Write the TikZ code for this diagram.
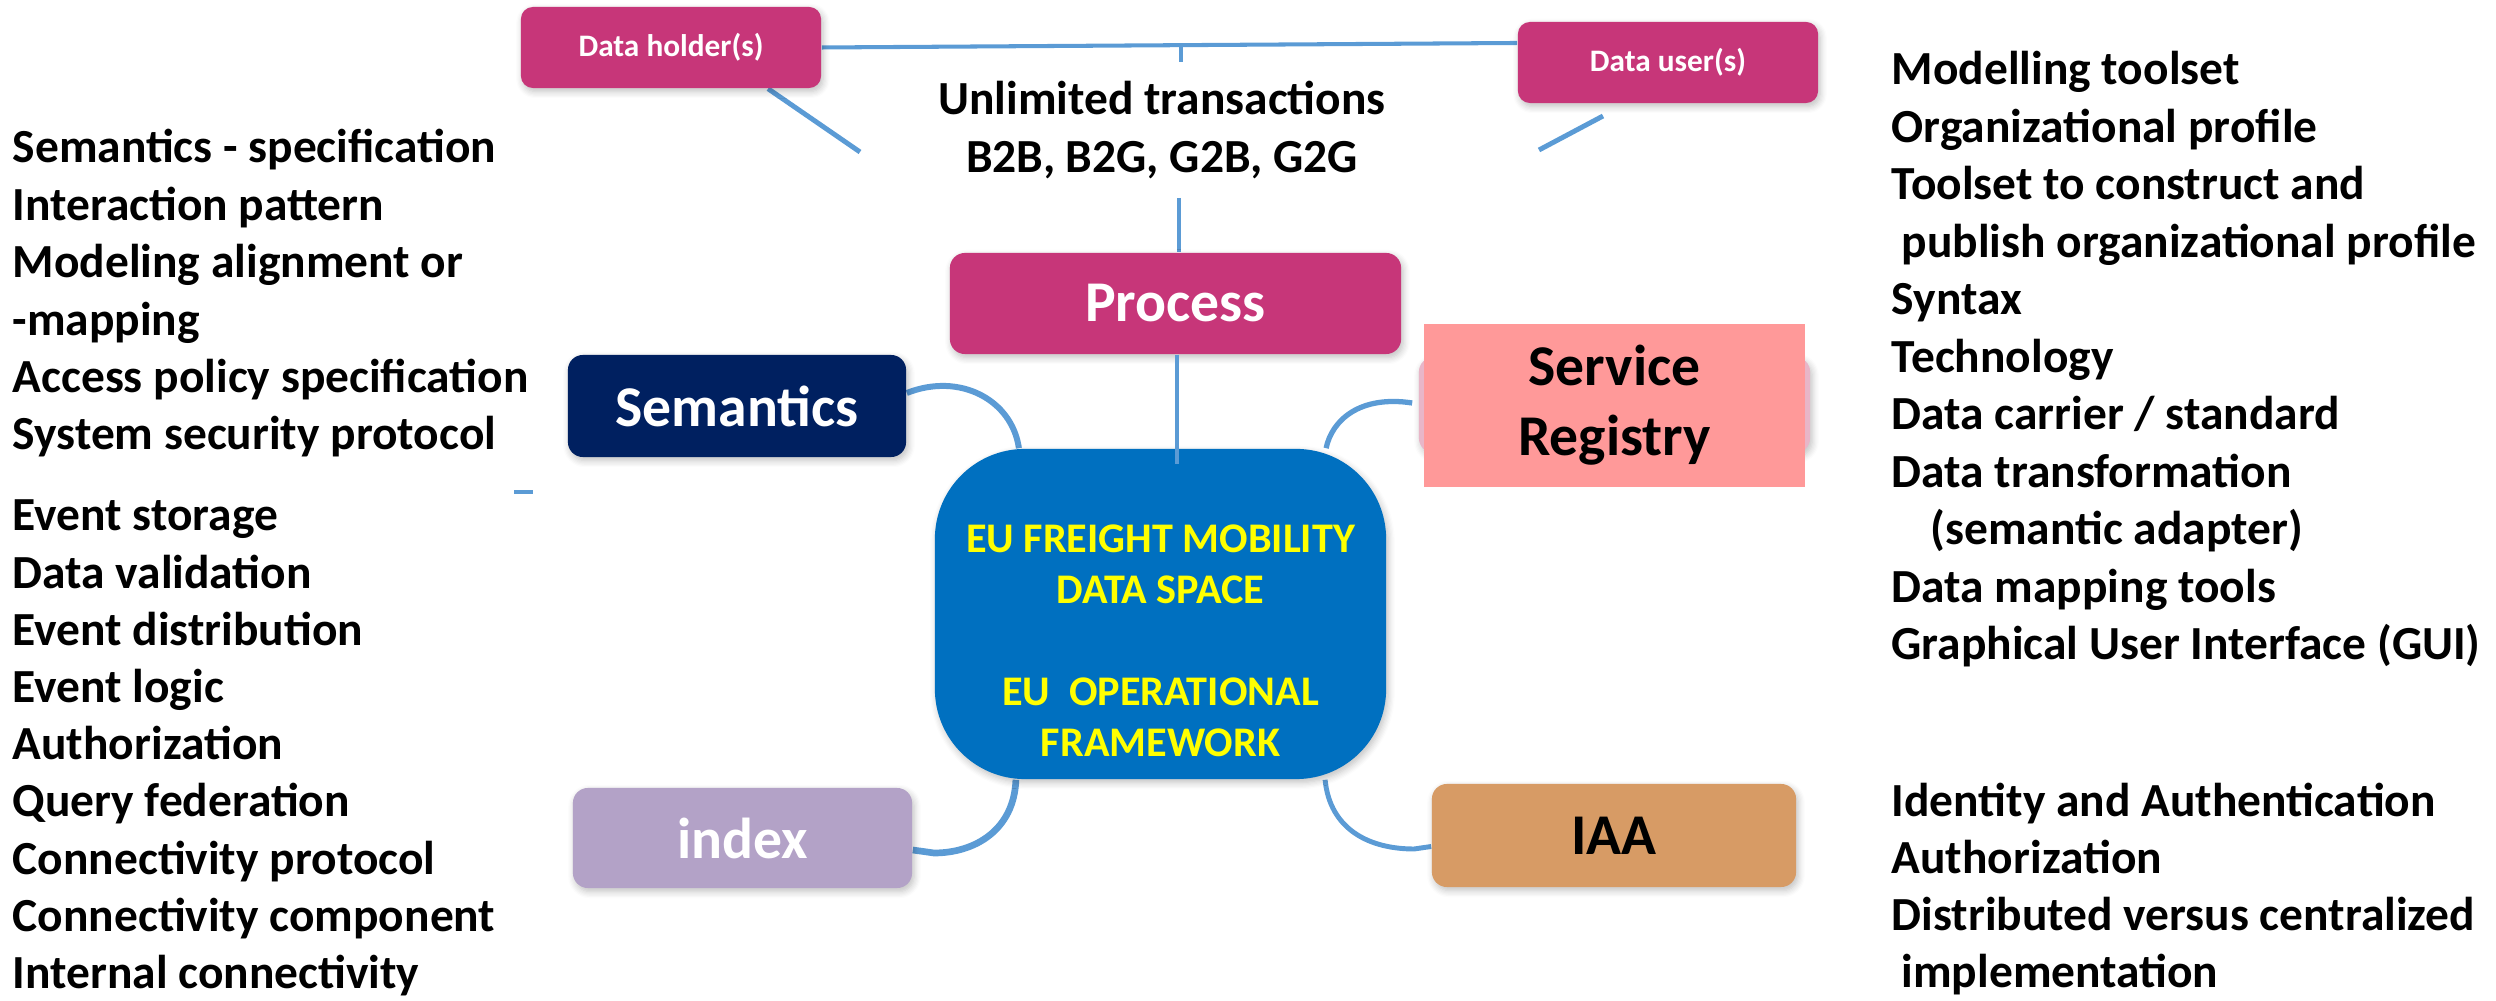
\documentclass[tikz,border=0pt]{standalone}
\usepackage{fontspec}
\setmainfont{Carlito}
\usetikzlibrary{shadows.blur,backgrounds}
\definecolor{magbox}{HTML}{C73679}
\definecolor{navybox}{HTML}{002060}
\definecolor{srpink}{HTML}{FF9999}
\definecolor{srfade}{HTML}{E8B6C8}
\definecolor{ctrblue}{HTML}{0070C0}
\definecolor{idxlilac}{HTML}{B3A2C7}
\definecolor{iaaorange}{HTML}{D79B65}
\definecolor{linec}{HTML}{5B9BD5}
\definecolor{ctryellow}{HTML}{FFFF00}
\begin{document}
\begin{tikzpicture}[x=0.01cm,y=-0.01cm,
  conn/.style={draw=linec, line width=1.4pt},
  box/.style={rounded corners=0.15cm, inner sep=0pt, align=center,
    font=\bfseries\fontsize{16.4}{19.9}\selectfont,
    blur shadow={shadow xshift=0.02cm, shadow yshift=-0.035cm, shadow opacity=25, shadow blur steps=6}},
  smallbox/.style={box, rounded corners=0.12cm, minimum width=3cm, minimum height=0.81cm,
    fill=magbox, text=white, font=\bfseries\fontsize{8.9}{10.8}\selectfont},
  side/.style={anchor=base west, inner sep=0pt, font=\bfseries\fontsize{13.5}{16.3}\selectfont},
  midtext/.style={anchor=base, inner sep=0pt, font=\bfseries\fontsize{13.5}{16.3}\selectfont},
]
\useasboundingbox (0,0) rectangle (2496,1001);

% boxes
\node[smallbox] (dh) at (671,47.5) {Data holder(s)};
\node[smallbox] (du) at (1668,62.5) {Data user(s)};
\node[box, fill=magbox, text=white, minimum width=4.51cm, minimum height=1.01cm] (proc) at (1175.5,303.5) {Process};
\node[box, fill=navybox, text=white, minimum width=3.38cm, minimum height=1.02cm] (sem) at (737,406) {Semantics};
\node[box, fill=srfade, minimum width=3.91cm, minimum height=0.96cm] (srbg) at (1614.5,405) {};
\node[fill=srpink, inner sep=0pt, align=center, minimum width=3.81cm, minimum height=1.63cm,
  font=\bfseries\fontsize{16.4}{19.9}\selectfont] (sr) at (1614.5,405.5) {Service\\Registry};
\node[box, fill=ctrblue, rounded corners=0.9cm, minimum width=4.51cm, minimum height=3.30cm] (ctr) at (1160.5,614) {};
\node[inner sep=0pt, align=center, text=ctryellow, font=\bfseries\fontsize{12}{14.5}\selectfont] (ctrtxt) at (1160.5,641)
  {EU FREIGHT MOBILITY\\DATA SPACE\\[14.5pt]EU~~OPERATIONAL\\FRAMEWORK};
\node[box, fill=idxlilac, text=white, minimum width=3.39cm, minimum height=1.00cm] (idx) at (742.5,838) {index};
\node[box, fill=iaaorange, minimum width=3.64cm, minimum height=1.03cm] (iaa) at (1614,835.5) {IAA};

% top text
\node[midtext] (ut1) at (1162,115) {Unlimited transactions};
\node[midtext] (ut2) at (1162,173) {B2B, B2G, G2B, G2G};

% coordinates
\coordinate (duw) at ([yshift=0.195cm]du.west);
\coordinate (tj) at (1181,45);
\coordinate (tg1) at (1181,62);
\coordinate (tg2) at (1179,198);
\coordinate (cj) at (1177,464);
\coordinate (dhe) at (860,152);
\coordinate (dus) at (1603,116);
\coordinate (due) at (1539,150);
\coordinate (tk1) at (514,492);
\coordinate (tk2) at (533,492);

\begin{scope}[on background layer]
\draw[conn, line width=1.15pt] (dh.east) -- (duw);
\draw[conn, line width=1.15pt] (tj) -- (tg1);
\draw[conn, line width=1.15pt] (tg2) -- (tg2 |- proc.north);
\draw[conn] ([xshift=0.97cm]dh.south) -- (dhe);
\draw[conn] (dus) -- (due);
\draw[conn, line width=1.7pt] ([yshift=0.13cm]sem.east) .. controls (960,372) and (1012,400) .. ([xshift=-1.415cm]ctr.north);
\draw[conn, line width=1.5pt] ([xshift=-0.06cm,yshift=0.02cm]srbg.west) .. controls (1360,395) and (1332,420) .. ([xshift=1.655cm]ctr.north);
\draw[conn, line width=1.9pt] ([xshift=-1.445cm]ctr.south) .. controls (1014,830) and (975,853) .. (934,853) -- ([yshift=-0.12cm]idx.east);
\draw[conn, line width=1.4pt] ([xshift=1.645cm]ctr.south) .. controls (1330,830) and (1370,849) .. (1414,849) -- ([yshift=-0.11cm]iaa.west);
\end{scope}
\draw[conn, line width=1.15pt] (cj |- proc.south) -- (cj);
\draw[conn, line width=1.15pt] (tk1) -- (tk2);

% left text block 1
\foreach \t [count=\i from 0] in {Semantics - specification, Interaction pattern, Modeling alignment or, -mapping, Access policy specification, System security protocol}
  \node[side] (la\i) at (12,{163+57.4*\i}) {\t};
% left text block 2
\foreach \t [count=\i from 0] in {Event storage, Data validation, Event distribution, Event logic, Authorization, Query federation, Connectivity protocol, Connectivity component, Internal connectivity}
  \node[side] (lb\i) at (12,{531+57.2*\i}) {\t};

% right text block 1
\node[side] (ra0) at (1891,85) {Modelling toolset};
\node[side] (ra1) at (1891,142.5) {Organizational profile};
\node[side] (ra2) at (1891,200) {Toolset to construct and};
\node[side] (ra3) at (1901,257.5) {publish organizational profile};
\node[side] (ra4) at (1891,315) {Syntax};
\node[side] (ra5) at (1891,372.5) {Technology};
\node[side] (ra6) at (1891,430) {Data carrier / standard};
\node[side] (ra7) at (1891,487.5) {Data transformation};
\node[side] (ra8) at (1930,545) {(semantic adapter)};
\node[side] (ra9) at (1891,602.5) {Data mapping tools};
\node[side] (ra10) at (1891,660) {Graphical User Interface (GUI)};
% right text block 2
\node[side] (rb0) at (1891,817) {Identity and Authentication};
\node[side] (rb1) at (1891,874) {Authorization};
\node[side] (rb2) at (1891,931) {Distributed versus centralized};
\node[side] (rb3) at (1901,988) {implementation};
\end{tikzpicture}
\end{document}
